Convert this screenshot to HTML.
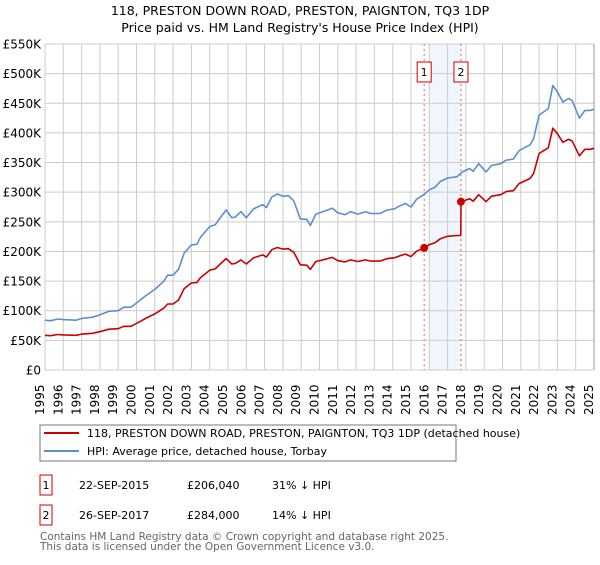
<!DOCTYPE html>
<html><head><meta charset="utf-8"><style>
body{margin:0;background:#fff;font-family:"Liberation Sans","DejaVu Sans",sans-serif;}
svg text{font-family:"DejaVu Sans","Liberation Sans",sans-serif;}
</style></head><body>
<svg id="chart" width="600" height="560" xmlns="http://www.w3.org/2000/svg">
<text x="300" y="15" font-size="12.5" text-anchor="middle" fill="#000">118, PRESTON DOWN ROAD, PRESTON, PAIGNTON, TQ3 1DP</text>
<text x="300" y="32" font-size="12.5" text-anchor="middle" fill="#000">Price paid vs. HM Land Registry's House Price Index (HPI)</text>
<g id="grid"></g><g id="marks"></g><g id="axes"></g>
<rect x="40" y="425" width="416" height="36" fill="#fff" stroke="#777"/>
<line x1="44" y1="433" x2="79" y2="433" stroke="#cc0000" stroke-width="2"/>
<text x="87" y="437" font-size="11">118, PRESTON DOWN ROAD, PRESTON, PAIGNTON, TQ3 1DP (detached house)</text>
<line x1="44" y1="451" x2="79" y2="451" stroke="#5b8fd0" stroke-width="2"/>
<text x="87" y="455" font-size="11">HPI: Average price, detached house, Torbay</text>
<rect x="40" y="475" width="12" height="20" fill="#fff" stroke="#cc0000"/>
<text x="46" y="489" font-size="11" text-anchor="middle">1</text>
<text x="79" y="489" font-size="11">22-SEP-2015</text>
<text x="187" y="489" font-size="11">£206,040</text>
<text x="272" y="489" font-size="11">31% ↓ HPI</text>
<rect x="40" y="505" width="12" height="20" fill="#fff" stroke="#cc0000"/>
<text x="46" y="519" font-size="11" text-anchor="middle">2</text>
<text x="79" y="519" font-size="11">26-SEP-2017</text>
<text x="187" y="519" font-size="11">£284,000</text>
<text x="272" y="519" font-size="11">14% ↓ HPI</text>
<text x="40" y="540" font-size="10.5" fill="#666">Contains HM Land Registry data © Crown copyright and database right 2025.</text>
<text x="40" y="550" font-size="10.5" fill="#666">This data is licensed under the Open Government Licence v3.0.</text>
</svg>
<script>
const hpiYears=[1995,1995.3,1995.7,1996,1996.7,1997,1997.6,1998,1998.5,1999,1999.3,1999.7,2000,2000.5,2001,2001.5,2001.7,2002,2002.3,2002.6,2003,2003.3,2003.5,2004,2004.3,2004.6,2004.9,2005.2,2005.4,2005.7,2006,2006.4,2006.9,2007.1,2007.4,2007.7,2008,2008.3,2008.6,2008.95,2009.3,2009.5,2009.8,2010.1,2010.7,2011,2011.4,2011.7,2012.1,2012.5,2012.8,2013.3,2013.7,2014.1,2014.4,2014.7,2015,2015.3,2015.7,2016,2016.3,2016.6,2017,2017.5,2017.8,2018.2,2018.4,2018.7,2019.1,2019.4,2019.9,2020.2,2020.6,2020.9,2021.5,2021.7,2022,2022.5,2022.75,2023,2023.3,2023.6,2023.8,2024.2,2024.5,2024.8,2025];
const hpiValues=[84,83,86,85,84,87,89,93,99,100,106,106,113,125,136,150,160,160,170,197,211,212,224,242,245,258,270,257,258,267,257,272,279,274,292,297,293,294,285,255,254,244,263,266,273,265,262,267,263,267,264,264,270,272,277,281,275,288,296,304,308,318,324,326,334,340,335,348,334,345,348,354,356,370,380,390,430,441,480,469,452,458,455,425,438,438,440];
const priceYears=[1995,1995.3,1995.7,1996,1996.7,1997,1997.6,1998,1998.5,1999,1999.3,1999.7,2000,2000.5,2001,2001.5,2001.7,2002,2002.3,2002.6,2003,2003.3,2003.5,2004,2004.3,2004.6,2004.9,2005.2,2005.4,2005.7,2006,2006.4,2006.9,2007.1,2007.4,2007.7,2008,2008.3,2008.6,2008.95,2009.3,2009.5,2009.8,2010.1,2010.7,2011,2011.4,2011.7,2012.1,2012.5,2012.8,2013.3,2013.7,2014.1,2014.4,2014.7,2015,2015.3,2015.72,2016,2016.3,2016.6,2017,2017.5,2017.72,2017.73,2018.2,2018.4,2018.7,2019.1,2019.4,2019.9,2020.2,2020.6,2020.9,2021.5,2021.7,2022,2022.5,2022.75,2023,2023.3,2023.6,2023.8,2024.2,2024.5,2024.8,2025];
const priceValues=[58.5,57.8,59.9,59.2,58.5,60.6,61.9,64.7,68.9,69.6,73.8,73.8,78.6,87,94.7,104.4,111.4,111.4,118.3,137.1,146.9,147.6,155.9,168.4,170.5,179.6,187.9,178.9,179.6,185.8,178.9,189.3,194.2,190.7,203.2,206.7,203.9,204.6,198.4,177.5,176.8,169.8,183,185.1,190,184.4,182.4,185.8,183,185.8,183.7,183.7,187.9,189.3,192.8,195.6,191.4,200.4,206,211.6,214.4,221.3,225.5,226.9,227,284,289,284.8,295.8,283.9,293.3,295.8,300.9,302.6,314.5,323,331.5,365.5,374.9,408,398.7,384.2,389.3,386.8,361.3,372.3,372.3,374];
const saleYears=[2015.72,2017.73];
const saleValues=[206.04,284];
const yTicks=[0,50,100,150,200,250,300,350,400,450,500,550];
const yTickLabels=["£0","£50K","£100K","£150K","£200K","£250K","£300K","£350K","£400K","£450K","£500K","£550K"];
const xTicks=[1995,1996,1997,1998,1999,2000,2001,2002,2003,2004,2005,2006,2007,2008,2009,2010,2011,2012,2013,2014,2015,2016,2017,2018,2019,2020,2021,2022,2023,2024,2025];
const shadeRange=[2016,2017.73];

const X0=45,X1=594,Y0=370,Y1=44;
const xs=y=>X0+(y-1995)/30*(X1-X0);
const ys=v=>Y0-v/550*(Y0-Y1);
const NS="http://www.w3.org/2000/svg";
function mk(tag,attrs,parent){const e=document.createElementNS(NS,tag);for(const k in attrs)e.setAttribute(k,attrs[k]);parent.appendChild(e);return e;}
const grid=document.getElementById('grid'),marks=document.getElementById('marks'),axes=document.getElementById('axes');
const shade=mk('rect',{x:xs(shadeRange[0]),y:Y1,width:xs(shadeRange[1])-xs(shadeRange[0]),height:Y0-Y1,fill:'#eef3fc',opacity:0.8},grid);


yTicks.forEach((t,i)=>{
  const l=mk('line',{x1:X0,x2:X1,y1:ys(t),y2:ys(t),stroke:'#cccccc'},grid);
  
  
  const tx=mk('text',{x:41,y:ys(t)+4.5,'font-size':12,'text-anchor':'end',fill:'#000'},axes);
  tx.textContent=yTickLabels[i];
  
  
});
xTicks.forEach(t=>{
  const l=mk('line',{x1:xs(t),x2:xs(t),y1:Y1,y2:Y0,stroke:'#cccccc'},grid);
  
  
  const tx=mk('text',{transform:`translate(${xs(t)-1},415) rotate(-90)`,'font-size':12,fill:'#000'},axes);
  tx.textContent=String(t);
  
  
});
const rb=mk('line',{x1:X1,x2:X1,y1:Y1,y2:Y0,stroke:'#999'},grid);


saleYears.forEach((y,i)=>{
  const l=mk('line',{x1:xs(y),x2:xs(y),y1:Y1,y2:Y0,stroke:'#e06060','stroke-dasharray':'2,3'},marks);
  
  
  const b=mk('rect',{x:xs(y)-7,y:62,width:14,height:20,fill:'#fff',stroke:'#cc0000'},marks);
  
  
  const t=mk('text',{x:xs(y),y:76,'font-size':11,'text-anchor':'middle'},marks);
  t.textContent=String(i+1);
  
  
});
function path(xa,va,color,name){
  const d=xa.map((x,i)=>(i?'L':'M')+xs(x).toFixed(1)+','+ys(va[i]).toFixed(1)).join('');
  const p=mk('path',{d:d,fill:'none',stroke:color,'stroke-width':1.6,'stroke-linejoin':'round'},marks);
  
  
}
path(hpiYears,hpiValues,'#5b8fd0','hpi-line');
path(priceYears,priceValues,'#cc0000','price-paid-line');
saleYears.forEach((y,i)=>{
  const c=mk('circle',{cx:xs(y),cy:ys(saleValues[i]),r:4,fill:'#cc0000'},marks);
  
  
});
</script>
</body></html>
